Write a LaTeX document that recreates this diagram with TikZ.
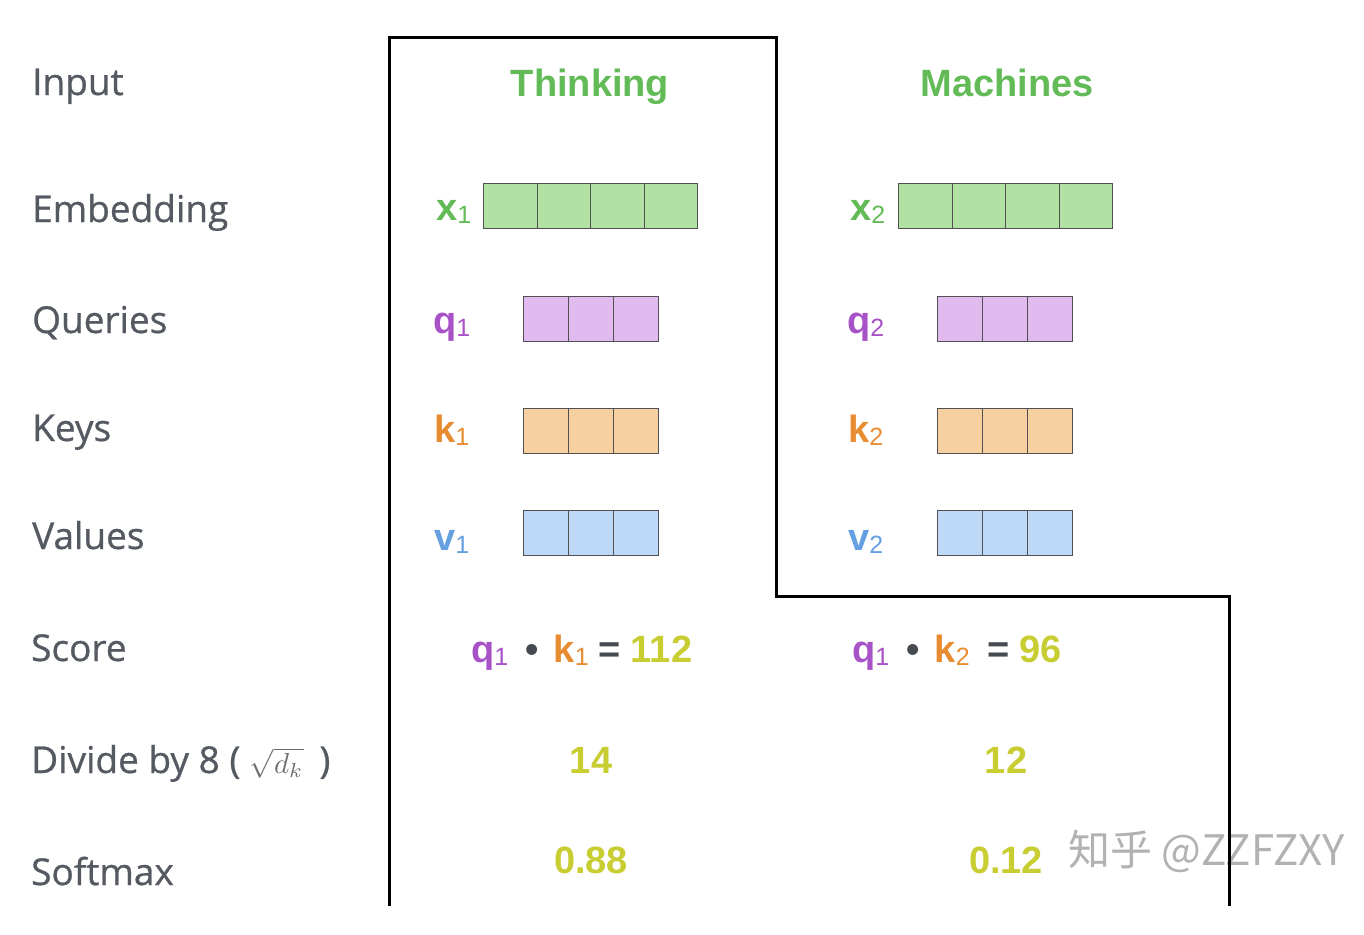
\documentclass[tikz,border=0pt]{standalone}
\usepackage{graphicx}
\usepackage{fontspec}
\setmainfont{Liberation Sans}
\newfontfamily\labfont[FakeBold=0.7]{Open Sans}
\newfontfamily\cjkfont{Noto Sans CJK SC}
\definecolor{gtext}{RGB}{98,187,86}
\definecolor{gfill}{RGB}{178,226,163}
\definecolor{ptext}{RGB}{168,82,200}
\definecolor{pfill}{RGB}{225,186,240}
\definecolor{otext}{RGB}{232,140,50}
\definecolor{ofill}{RGB}{246,208,160}
\definecolor{btext}{RGB}{100,160,225}
\definecolor{bfill}{RGB}{190,217,248}
\definecolor{ytext}{RGB}{200,205,50}
\definecolor{labgray}{RGB}{85,90,98}
\definecolor{opgray}{RGB}{70,75,82}
\definecolor{cellline}{RGB}{80,80,85}
\definecolor{wmgray}{RGB}{178,178,178}
\definecolor{mathgray}{RGB}{110,110,115}
\newcommand{\bigf}{\fontsize{38}{44}\selectfont\bfseries}
\newcommand{\subf}[1]{\raisebox{-3pt}{\fontsize{25}{28}\selectfont\mdseries #1}}
\newcommand{\sqrtdk}{\textcolor{mathgray}{\scalebox{2.9}{\normalsize$\sqrt{d_k}$}}}
\tikzset{
  lab/.style={anchor=base west, inner sep=0, text=labgray, font=\labfont\fontsize{37}{40}\selectfont},
  head/.style={anchor=base, inner sep=0, text=gtext, font=\bigf},
  vlab/.style={anchor=base west, inner sep=0, font=\bigf},
  num/.style={anchor=base, inner sep=0, text=ytext, font=\bigf},
  cell/.style={draw=cellline, line width=1.4pt, minimum height=45pt, inner sep=0, anchor=north west},
  cellfour/.style={cell, minimum width=53.5pt},
  cellthree/.style={cell, minimum width=45pt},
  outline/.style={draw=black, line width=3pt},
  wm/.style={anchor=west, inner sep=0, text=wmgray, font=\cjkfont\fontsize{42}{46}\selectfont}
}
\begin{document}
\begin{tikzpicture}[x=1pt,y=-1pt]
\useasboundingbox (0,0) rectangle (1364,934);
\fill[white] (0,0) rectangle (1364,934);

% row labels
\node[lab] (linput) at (32,95) {Input};
\node[lab] (lemb) at (32,222) {Embedding};
\node[lab] (lq) at (32,333) {Queries};
\node[lab] (lk) at (32,441) {Keys};
\node[lab] (lv) at (32,549) {Values};
\node[lab] (lscore) at (31,661) {Score};
\node[lab] (ldiv) at (31,773) {Divide by 8 ( \sqrtdk\hspace{16pt})};
\node[lab] (lsoft) at (31,885) {Softmax};

% headings
\node[head] (think) at (590,96) {Thinking};
\node[head] (mach) at (1007,96) {Machines};

% vector labels
\node[vlab, text=gtext] (x1) at (436,220) {x\subf{1}};
\node[vlab, text=gtext] (x2) at (850,220) {x\subf{2}};
\node[vlab, text=ptext] (q1) at (433,333) {q\subf{1}};
\node[vlab, text=ptext] (q2) at (847,333) {q\subf{2}};
\node[vlab, text=otext] (k1) at (434,442) {k\subf{1}};
\node[vlab, text=otext] (k2) at (848,442) {k\subf{2}};
\node[vlab, text=btext] (v1) at (434,550) {v\subf{1}};
\node[vlab, text=btext] (v2) at (848,550) {v\subf{2}};

% cells
\foreach \i in {0,...,3} {
  \node[cellfour, fill=gfill] (xa\i) at (483+\i*53.5,183) {};
  \node[cellfour, fill=gfill] (xb\i) at (898+\i*53.5,183) {};
}
\foreach \i in {0,...,2} {
  \node[cellthree, fill=pfill] (qa\i) at (523+\i*45,296) {};
  \node[cellthree, fill=pfill] (qb\i) at (937+\i*45,296) {};
  \node[cellthree, fill=ofill] (ka\i) at (523+\i*45,408) {};
  \node[cellthree, fill=ofill] (kb\i) at (937+\i*45,408) {};
  \node[cellthree, fill=bfill] (va\i) at (523+\i*45,510) {};
  \node[cellthree, fill=bfill] (vb\i) at (937+\i*45,510) {};
}

% scores
\node[vlab] (s1) at (471,662) {\textcolor{ptext}{q\subf{1}}\hspace{17pt}\textcolor{opgray}{\textbullet}\hspace{15pt}\textcolor{otext}{k\subf{1}}\hspace{10pt}\textcolor{opgray}{=}\hspace{10pt}\textcolor{ytext}{112}};
\node[vlab] (s2) at (852,662) {\textcolor{ptext}{q\subf{1}}\hspace{17pt}\textcolor{opgray}{\textbullet}\hspace{15pt}\textcolor{otext}{k\subf{2}}\hspace{18pt}\textcolor{opgray}{=}\hspace{10pt}\textcolor{ytext}{96}};

\node[num] (d1) at (591,773) {14};
\node[num] (d2) at (1006,773) {12};
\node[num] (sm1) at (591,873) {0.88};
\node[num] (sm2) at (1006,873) {0.12};

% watermark
\node[wm] (wmark) at (1068,851) {知乎 @ZZFZXY};

% outline
\draw[outline] (389,906) -- (389,38) -- (776,38) -- (776,596) -- (1229,596) -- (1229,906);
\end{tikzpicture}
\end{document}
